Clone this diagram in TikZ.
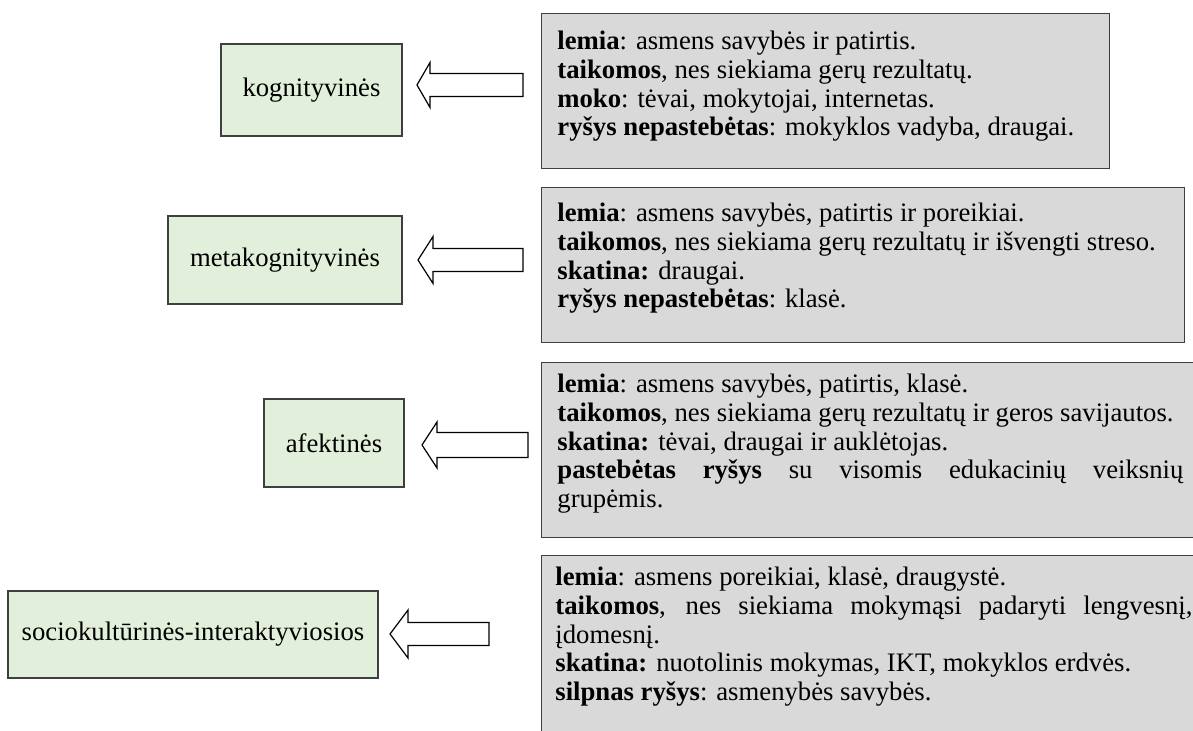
\documentclass[tikz,border=0pt]{standalone}
\usepackage{fontspec}
\setmainfont{Liberation Serif}
\usetikzlibrary{calc}
\definecolor{groupgreen}{HTML}{E2EFDA}
\definecolor{notegray}{HTML}{D9D9D9}
\definecolor{edgegray}{HTML}{3F3F3F}

% hollow block arrow: tip, tail, head half height, shaft half height, head length
\newcommand{\hollowarrow}[5]{%
  \draw[hollow] (#1) -- ++(#5,-#3) -- ++(0,#3-#4) -- ($(#2)+(0,-#4)$)
    -- ($(#2)+(0,#4)$) -- ($(#1)+(#5,#4)$) -- ++(0,#3-#4) -- cycle;}

\begin{document}
\begin{tikzpicture}[x=0.5pt, y=-0.5pt,
  group/.style={draw=edgegray, fill=groupgreen, line width=0.6pt, inner sep=0pt,
    font=\fontsize{13.35}{14.3}\selectfont},
  notebox/.style={draw=edgegray, fill=notegray, line width=0.7pt, inner sep=0pt, anchor=north west},
  notetext/.style={anchor=north west, inner sep=0pt, align=justify, text width=313pt,
    font=\fontsize{13.35}{14.3}\selectfont,
    execute at begin node={\setlength{\baselineskip}{14.3pt}\setlength{\lineskiplimit}{-10pt}}},
  hollow/.style={draw=black, fill=white, line width=0.6pt, line join=miter}]
\useasboundingbox (0,0) rectangle (1193,731);
\clip (0,0) rectangle (1193,731);
\fill[white] (0,0) rectangle (1193,731);

\node[notebox, minimum width=284pt, minimum height=77.5pt] (b1) at (541,13) {};
\node[notebox, minimum width=321.5pt, minimum height=77.5pt] (b2) at (541,187) {};
\node[notebox, minimum width=327.5pt, minimum height=87.5pt] (b3) at (541,362) {};
\node[notebox, minimum width=330pt, minimum height=93pt] (b4) at (541,555) {};

\node[notetext] (t1) at (557,31) {\textbf{lemia}: asmens savybės ir patirtis.\\
  \textbf{taikomos}, nes siekiama gerų rezultatų.\\
  \textbf{moko}: tėvai, mokytojai, internetas.\\
  \textbf{ryšys nepastebėtas}: mokyklos vadyba, draugai.};
\node[notetext] (t2) at (557,203) {\textbf{lemia}: asmens savybės, patirtis ir poreikiai.\\
  \textbf{taikomos}, nes siekiama gerų rezultatų ir išvengti streso.\\
  \textbf{skatina:} draugai.\\
  \textbf{ryšys nepastebėtas}: klasė.};
\node[notetext] (t3) at (557,374) {\textbf{lemia}: asmens savybės, patirtis, klasė.\\
  \textbf{taikomos}, nes siekiama gerų rezultatų ir geros savijautos.\\
  \textbf{skatina:} tėvai, draugai ir auklėtojas.\\
  \textbf{pastebėtas ryšys} su visomis edukacinių veiksnių\linebreak grupėmis.};
\node[notetext, text width=318.5pt] (t4) at (555,567) {\textbf{lemia}: asmens poreikiai, klasė, draugystė.\\
  \textbf{taikomos}, nes siekiama mokymąsi padaryti lengvesnį,\linebreak įdomesnį.\\
  \textbf{skatina:} nuotolinis mokymas, IKT, mokyklos erdvės.\\
  \textbf{silpnas ryšys}: asmenybės savybės.};

\node[group, minimum width=90.5pt, minimum height=46pt] (g1) at (311.5,90) {kognityvinės};
\node[group, minimum width=117pt, minimum height=44pt] (g2) at (285,260) {metakognityvinės};
\node[group, minimum width=70pt, minimum height=44pt] (g3) at (334,443) {afektinės};
\node[group, minimum width=185pt, minimum height=43.5pt] (g4) at (193,634.5) {sociokultūrinės-interaktyviosios};

\coordinate (a1tip) at (417,85);  \coordinate (a1end) at (523,85);
\coordinate (a2tip) at (418,260); \coordinate (a2end) at (523,260);
\coordinate (a3tip) at (422,445); \coordinate (a3end) at (528,445);
\coordinate (a4tip) at (390,634); \coordinate (a4end) at (489,634);
\hollowarrow{a1tip}{a1end}{22.5}{11.5}{13}
\hollowarrow{a2tip}{a2end}{23.5}{11.5}{15}
\hollowarrow{a3tip}{a3end}{23}{12.5}{15}
\hollowarrow{a4tip}{a4end}{24}{11.5}{18}
\end{tikzpicture}
\end{document}
